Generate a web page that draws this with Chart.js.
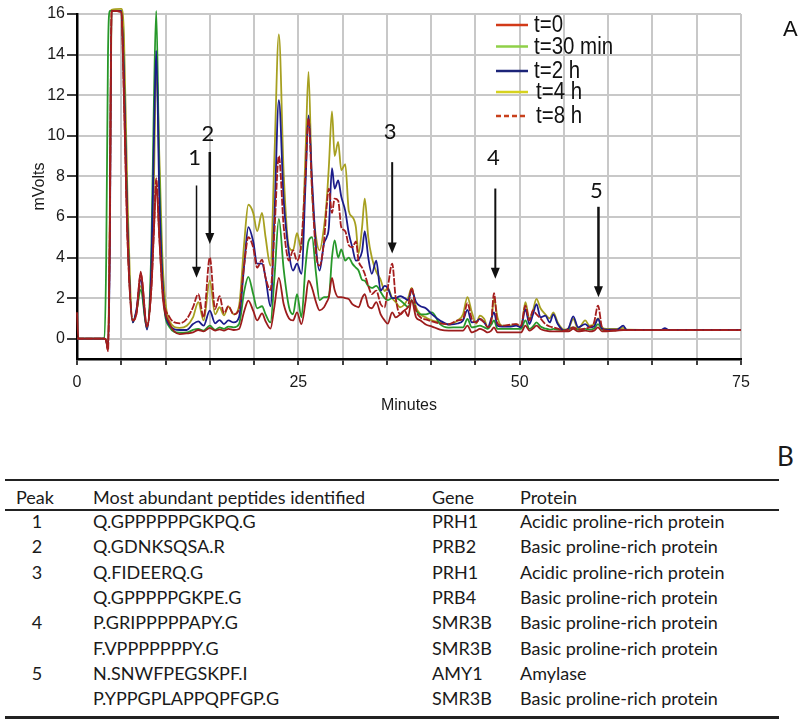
<!DOCTYPE html>
<html>
<head>
<meta charset="utf-8">
<script src="https://cdn.jsdelivr.net/npm/chart.js"></script>
<style>
  html, body { margin: 0; padding: 0; background: #fff; }
  #page { position: relative; width: 800px; height: 727px; overflow: hidden; }
  #chartBox { position: absolute; left: 0; top: 0; width: 800px; height: 420px; }
  .tbl { position: absolute; font-family: Lato, "Open Sans", sans-serif; font-size: 18px; color: #1a1a1a; line-height: 22px; white-space: nowrap; }
  .rule { position: absolute; left: 5px; width: 774px; background: #222; }
</style>
</head>
<body>
<div id="page">
  <div id="chartBox"><canvas id="myChart"></canvas></div>
  <div class="tbl" style="left:777px; top:441px; font-size:26px; line-height:30px;">B</div>
  <div class="rule" style="top:479px; height:1.5px;"></div>
  <div class="rule" style="top:509px; height:1.5px;"></div>
  <div class="rule" style="top:716px; height:2.5px;"></div>
  <div id="table"></div>
</div>
<script>
// retention time (min) shared by every trace
const minutes = [
  0, 0.15, 3.1, 3.3, 3.5, 3.7, 3.9, 5.0, 5.3, 5.7, 6.3, 6.7, 7.2, 7.9, 8.4, 8.7, 8.95, 9.3, 9.7, 10.4, 11.6,
  12.4, 13.1, 13.7, 14.3, 15.0, 15.6, 16.1, 16.6, 17.1, 17.7, 18.3, 18.9, 19.35, 19.9, 20.35, 20.9, 21.3, 21.85,
  22.3, 22.8, 23.35, 23.95, 24.4, 24.85, 25.35, 25.8, 26.15, 26.55, 27.0, 27.4, 27.9, 28.2, 28.45, 28.8, 29.1, 29.5, 29.85,
  30.3, 30.7, 31.1, 31.5, 31.8, 32.2, 32.5, 32.9, 33.3, 33.8, 34.3, 34.75, 35.1, 35.6, 36.0, 36.5, 37.0, 37.4, 37.8, 38.3, 38.8, 39.4,
  40.1, 41.0, 42.0, 43.0, 43.6, 44.1, 44.6, 45.1, 45.5, 46.0, 46.4, 46.8, 47.1, 47.5, 48.0, 49.0, 49.6, 50.15, 50.65,
  51.1, 51.5, 51.9, 52.35, 52.9, 53.4, 53.8, 54.3, 55.0, 55.5, 56.05, 56.6, 57.4, 57.9, 58.4, 58.85, 59.3, 59.8, 61.0, 61.7, 62.1, 66.0, 66.4, 66.8, 75
];

const t0 = [
  1.3, 0, 0, -0.1, -0.6, 5, 16.15, 16.1, 12, 5, 0.9, 1.2, 3.3, 0.6, 2.5, 5.5, 7.6, 5, 2, 0.8, 0.23,
  0.26, 0.31, 0.43, 0.36, 0.53, 0.4, 0.46, 0.4, 0.48, 0.43, 0.48, 1.38, 1.88, 1.38, 0.9, 1.25, 0.86, 0.5,
  1.6, 3.0, 1.7, 1.0, 0.9, 1.3, 0.72, 1.8, 2.86, 2.5, 1.8, 1.4, 1.55, 1.8, 2.05, 3.0, 2.4, 2.05, 2.05,
  2.0, 1.95, 1.7, 1.6, 1.55, 2.0, 2.2, 1.6, 1.5, 1.8, 1.2, 0.9, 0.74, 1.3, 1.05, 1.2, 1.4, 1.1, 1.9, 1.05, 0.9, 0.7,
  0.6, 0.45, 0.4, 0.4, 0.4, 0.64, 0.31, 0.4, 0.48, 0.4, 0.31, 0.4, 0.56, 0.31, 0.31, 0.31, 0.31, 0.31, 0.64,
  0.4, 0.5, 0.64, 0.48, 0.4, 0.36, 0.36, 0.36, 0.36, 0.36, 0.48, 0.36, 0.4, 0.36, 0.4, 0.56, 0.36, 0.36, 0.4, 0.42, 0.42, 0.42, 0.42, 0.42, 0.42
];

const t30min = [
  0, 0, 0, 4, 14, 16.15, 16.15, 16.15, 13, 5.5, 0.8, 1.3, 2.4, 0.5, 4.5, 12, 16.15, 8, 2.5, 0.6, 0.3,
  0.31, 0.43, 0.48, 0.4, 0.64, 0.43, 0.56, 0.48, 0.6, 0.56, 0.72, 2.37, 3.05, 2.2, 1.5, 1.6, 1.2, 0.8,
  3.0, 5.9, 3.4, 1.55, 1.2, 2.2, 1.05, 3.5, 4.8, 5.0, 3.2, 1.9, 2.05, 2.05, 2.1, 4.0, 4.85, 4.0, 4.4,
  3.85, 4.0, 3.7, 3.5, 3.36, 2.9, 2.86, 2.6, 2.5, 2.6, 2.3, 2.0, 1.9, 2.0, 2.0, 1.9, 1.7, 1.55, 1.9, 1.4, 1.2, 1.2,
  1.3, 0.72, 0.55, 0.56, 0.56, 0.97, 0.56, 0.6, 0.64, 0.56, 0.48, 0.7, 0.9, 0.48, 0.48, 0.48, 0.48, 0.48, 0.9,
  0.48, 0.6, 0.8, 0.6, 0.5, 0.45, 0.48, 0.45, 0.42, 0.45, 0.56, 0.45, 0.48, 0.45, 0.5, 0.72, 0.45, 0.4, 0.42, 0.42, 0.42, 0.42, 0.42, 0.42, 0.42
];

const t2h = [
  0, 0, 0, -0.1, -0.5, 4, 16.15, 16.15, 13, 5.5, 0.8, 1.4, 2.9, 0.45, 3.5, 10, 14.2, 7, 2.5, 0.7, 0.43,
  0.43, 0.72, 0.85, 0.64, 1.38, 0.76, 0.92, 0.72, 0.9, 0.8, 1.05, 3.7, 5.5, 4.8, 3.7, 3.7, 3.0, 1.6,
  6, 11.75, 6.8, 4.2, 3.36, 3.7, 3.2, 7.5, 11.0, 7.8, 4.5, 3.36, 4.7, 5.0, 5.5, 8.4, 7.4, 7.8, 7.0,
  6.3, 5.2, 4.5, 3.85, 3.9, 4.3, 5.3, 4.0, 3.2, 3.85, 2.37, 2.6, 2.5, 2.0, 2.0, 2.1, 2.0, 1.9, 2.37, 1.8, 1.6, 1.5,
  1.2, 0.9, 0.7, 0.75, 0.9, 1.42, 0.8, 0.85, 0.97, 0.8, 0.56, 1.0, 1.3, 0.64, 0.6, 0.6, 0.64, 0.56, 1.46,
  0.72, 1.2, 1.7, 1.05, 1.14, 0.8, 1.2, 0.72, 0.4, 0.5, 1.1, 0.56, 0.72, 0.56, 0.6, 0.97, 0.5, 0.45, 0.45, 0.64, 0.43, 0.43, 0.52, 0.43, 0.43
];

const t4h = [
  0, 0, 0, -0.1, -0.5, 6, 16.2, 16.25, 15, 7, 0.9, 1.3, 2.6, 0.55, 3, 8, 13.5, 9, 3.5, 0.9, 0.53,
  0.64, 1.05, 1.8, 0.9, 2.86, 1.2, 1.55, 1.15, 1.58, 1.2, 1.6, 4.8, 6.6, 6.2, 5.3, 6.2, 5.0, 3.6,
  9, 15.0, 8.1, 4.5, 4.35, 5.2, 4.4, 9, 13.15, 7.3, 5.0, 4.35, 5.5, 6.8, 8.5, 11.2, 9.0, 9.7, 8.3,
  8.6, 6.3, 6.0, 5.5, 4.2, 5.5, 6.9, 5.0, 4.0, 3.3, 2.9, 2.35, 2.5, 2.0, 1.8, 1.55, 1.7, 2.0, 2.5, 1.55, 1.2, 1.05,
  0.9, 0.8, 0.7, 0.9, 1.2, 2.05, 1.3, 0.75, 1.14, 0.97, 0.56, 0.9, 1.96, 1.05, 0.64, 0.64, 0.72, 0.56, 1.8,
  0.97, 1.4, 1.96, 1.5, 1.2, 1.0, 1.3, 0.8, 0.45, 0.5, 0.97, 0.48, 0.9, 0.64, 0.7, 1.0, 0.56, 0.48, 0.48, 0.53, 0.45, 0.44, 0.44, 0.43, 0.43
];

const t8h = [
  0, 0, 0, -0.1, -0.6, 5, 16.15, 16.1, 12, 5, 0.9, 1.2, 3.2, 0.6, 2.5, 5.5, 7.9, 5, 2.2, 1.1, 0.76,
  0.97, 1.55, 2.2, 1.05, 4.0, 1.46, 2.1, 1.25, 1.6, 1.2, 1.45, 3.7, 5.0, 4.5, 3.5, 3.9, 3.0, 2.4,
  5.3, 9.0, 5.5, 3.85, 4.35, 3.85, 4.8, 8, 10.85, 7.3, 4.2, 3.6, 4.8, 6.5, 7.4, 6.2, 6.9, 6.8, 5.5,
  5.3, 4.6, 4.5, 4.8, 3.85, 3.5, 3.2, 2.6, 2.2, 2.37, 1.7, 1.55, 2.5, 3.7, 2.0, 1.2, 1.4, 1.6, 2.5, 1.4, 1.05, 0.95,
  0.85, 0.75, 0.72, 0.9, 0.97, 1.75, 0.97, 0.8, 0.97, 0.8, 0.56, 0.9, 2.24, 0.75, 0.64, 0.7, 0.72, 0.64, 1.63,
  0.9, 1.4, 1.2, 1.0, 0.72, 0.6, 0.56, 0.5, 0.4, 0.45, 0.56, 0.45, 0.5, 0.56, 0.8, 1.63, 0.56, 0.4, 0.42, 0.42, 0.42, 0.42, 0.42, 0.42, 0.42
];

const seriesLabels = ['t=0', 't=30 min', 't=2 h', 't=4 h', 't=8 h'];
const xTickLabels = [0, 25, 50, 75];

// marked peaks: retention time, arrow top / tip level and number level (mV)
const peakNames = ['1', '2', '3', '4', '5'];
const peakMinutes = [13.5, 15.0, 35.6, 47.25, 58.9];
const arrowTop = [7.55, 9.2, 8.7, 7.4, 6.5];
const arrowTip = [3.0, 4.67, 4.2, 2.95, 2.04];
const labelLevel = [8.9, 10.1, 10.2, 8.9, 7.3];

// table B
const tablePeaks = ['1', '2', '3', '', '4', '', '5', ''];
const tablePeptides = ['Q.GPPPPPPGKPQ.G', 'Q.GDNKSQSA.R', 'Q.FIDEERQ.G', 'Q.GPPPPPGKPE.G', 'P.GRIPPPPPAPY.G', 'F.VPPPPPPPY.G', 'N.SNWFPEGSKPF.I', 'P.YPPGPLAPPQPFGP.G'];
const tableGenes = ['PRH1', 'PRB2', 'PRH1', 'PRB4', 'SMR3B', 'SMR3B', 'AMY1', 'SMR3B'];
const tableProteins = ['Acidic proline-rich protein', 'Basic proline-rich protein', 'Acidic proline-rich protein', 'Basic proline-rich protein', 'Basic proline-rich protein', 'Basic proline-rich protein', 'Amylase', 'Basic proline-rich protein'];

const lineColors = ['#9c1c1c', '#27982a', '#1b1b8a', '#a7a020', '#a51e1e'];
const legendColors = ['#d23a18', '#8fd048', '#1c2478', '#d6d21e', '#c8401c'];

// --- table ---
function cell(text, left, top, align) {
  const d = document.createElement('div');
  d.className = 'tbl';
  d.textContent = text;
  d.style.top = (top - 11) + 'px';
  if (align === 'center') {
    d.style.left = (left - 30) + 'px';
    d.style.width = '60px';
    d.style.textAlign = 'center';
  } else {
    d.style.left = left + 'px';
  }
  document.getElementById('table').appendChild(d);
}
cell('Peak', 35, 497, 'center');
cell('Most abundant peptides identified', 93, 497);
cell('Gene', 432, 497);
cell('Protein', 520, 497);
tablePeptides.forEach((p, i) => {
  const cy = 521 + i * 25.3;
  cell(tablePeaks[i], 37, cy, 'center');
  cell(p, 93, cy);
  cell(tableGenes[i], 432, cy);
  cell(tableProteins[i], 520, cy);
});

// --- chart ---
Chart.defaults.font.family = '"Liberation Sans", Arial, sans-serif';
Chart.defaults.color = '#1a1a1a';

const overlay = {
  id: 'overlay',
  afterDatasetsDraw(chart) {
    const ctx = chart.ctx;
    const x = chart.scales.x;
    const y = chart.scales.y;
    ctx.save();

    // arrows on the marked peaks
    ctx.fillStyle = '#111';
    ctx.strokeStyle = '#111';
    const widths = [1.5, 2.5, 2, 2, 2.5];
    peakMinutes.forEach((m, i) => {
      const px = x.getPixelForValue(m);
      const yTop = y.getPixelForValue(arrowTop[i]);
      const tip = y.getPixelForValue(arrowTip[i]);
      ctx.lineWidth = widths[i];
      ctx.beginPath();
      ctx.moveTo(px, yTop);
      ctx.lineTo(px, tip - 9);
      ctx.stroke();
      ctx.beginPath();
      ctx.moveTo(px - 4.5, tip - 11);
      ctx.lineTo(px + 4.5, tip - 11);
      ctx.lineTo(px, tip);
      ctx.closePath();
      ctx.fill();
      ctx.font = '22px Lato';
      ctx.textAlign = 'center';
      ctx.textBaseline = 'middle';
      ctx.fillText(peakNames[i], px - 2, y.getPixelForValue(labelLevel[i]));
    });

    // legend inside the plot
    const rows = [25, 46.5, 71, 92, 116];
    seriesLabels.forEach((lab, i) => {
      ctx.strokeStyle = legendColors[i];
      ctx.lineWidth = 2.5;
      ctx.setLineDash(i === 4 ? [5, 3] : []);
      ctx.beginPath();
      ctx.moveTo(496, rows[i]);
      ctx.lineTo(528, rows[i]);
      ctx.stroke();
      ctx.setLineDash([]);
      ctx.save();
      ctx.translate(i < 3 ? 534 : 536, rows[i] + 1);
      ctx.scale(0.89, 1);
      ctx.font = '23px "Liberation Sans"';
      ctx.textAlign = 'left';
      ctx.textBaseline = 'middle';
      ctx.fillStyle = '#111';
      ctx.fillText(lab, 0, 0);
      ctx.restore();
    });

    ctx.font = '22px "Liberation Sans"';
    ctx.textAlign = 'left';
    ctx.textBaseline = 'middle';
    ctx.fillStyle = '#111';
    ctx.fillText('A', 783, 30);
    ctx.restore();
  }
};

const traces = [t0, t30min, t2h, t4h, t8h];
const drawOrder = [1, 3, 2, 4, 0];

new Chart(document.getElementById('myChart'), {
  type: 'line',
  data: {
    datasets: traces.map((vals, i) => ({
      label: seriesLabels[i],
      data: minutes.map((m, j) => ({ x: m, y: vals[j] })),
      borderColor: lineColors[i],
      borderWidth: 1.8,
      borderDash: i === 4 ? [7, 1.5] : [],
      pointRadius: 0,
      cubicInterpolationMode: 'monotone',
      clip: false,
      order: drawOrder[i]
    }))
  },
  options: {
    responsive: true,
    maintainAspectRatio: false,
    animation: false,
    layout: { padding: { top: 14, right: 59, left: 0, bottom: 0 } },
    plugins: {
      legend: { display: false },
      tooltip: { enabled: false }
    },
    scales: {
      x: {
        type: 'linear',
        min: 0,
        max: 75,
        ticks: {
          stepSize: 5,
          autoSkip: false,
          maxRotation: 0,
          padding: 8,
          font: { size: 16 },
          callback: v => xTickLabels.includes(v) ? String(v) : ''
        },
        grid: { color: '#c8c8c8', lineWidth: 2, tickColor: '#000', tickWidth: 1.5, tickLength: 6 },
        border: { color: '#000', width: 2.5 },
        title: { display: true, text: 'Minutes', font: { size: 16 }, padding: { top: 0, bottom: 5 } },
        afterFit: s => { s.height = 61; }
      },
      y: {
        min: -1,
        max: 16,
        afterBuildTicks: a => { a.ticks = a.ticks.filter(t => t.value >= 0); },
        ticks: { stepSize: 2, padding: 2, font: { size: 16 } },
        grid: { color: '#c8c8c8', lineWidth: 2, tickColor: '#000', tickWidth: 1.5, tickLength: 10 },
        border: { color: '#000', width: 2.5 },
        title: { display: true, text: 'mVolts', font: { size: 16 }, padding: { top: 30, bottom: 0 } },
        afterFit: s => { s.width = 77; }
      }
    }
  },
  plugins: [overlay]
});
</script>
</body>
</html>
